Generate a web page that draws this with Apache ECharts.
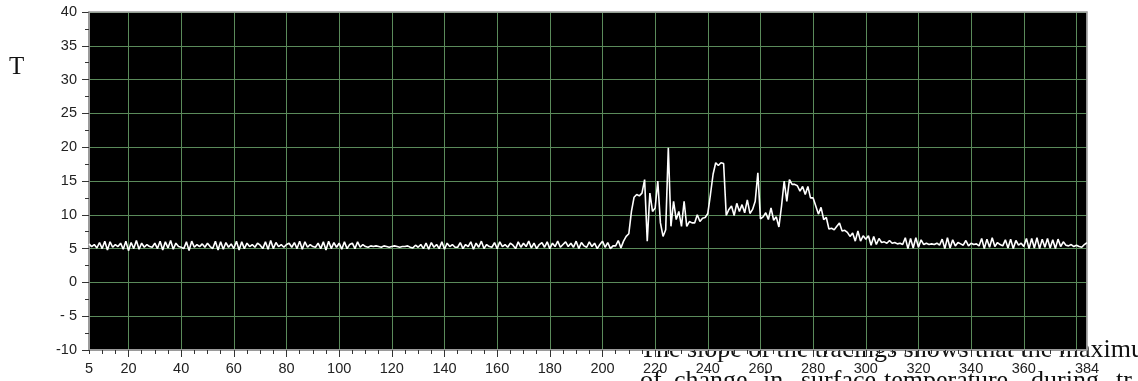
<!DOCTYPE html>
<html>
<head>
<meta charset="utf-8">
<script src="https://cdn.jsdelivr.net/npm/echarts@6/dist/echarts.min.js"></script>
<style>
  html, body { margin: 0; padding: 0; background: #fff; }
  #main { width: 1138px; height: 381px; }
</style>
</head>
<body>
<div id="main"></div>
<script>
// first sample is at x = 5, one sample per unit
var xStart = 5;

// quiet baseline, x 5..204
var baseLeft = [
  5.7,5.3,5.6,5.1,5.9,5.0,6.1,4.8,6.0,5.2,5.6,5.3,5.8,4.9,6.1,4.7,5.9,5.0,6.2,4.9,
  5.8,5.2,5.6,5.3,5.2,5.8,5.0,6.1,4.8,6.0,5.1,6.2,4.9,5.8,5.3,5.2,5.0,6.0,4.7,6.1,
  5.2,5.6,5.3,5.7,5.2,5.8,5.3,5.0,6.1,4.8,6.0,4.9,5.9,5.2,5.7,5.0,6.1,4.8,6.0,5.0,
  5.8,5.3,5.6,5.2,5.8,5.5,5.0,6.0,4.9,6.2,5.0,5.9,5.3,5.6,5.2,5.6,5.8,5.2,5.9,5.0,
  6.1,4.9,6.0,5.2,5.6,5.3,5.2,5.8,5.0,6.0,4.8,6.1,5.0,5.9,5.2,5.8,4.9,6.0,5.0,5.6,
  5.8,5.0,6.0,5.2,5.6,5.3,5.2,5.4,5.3,5.4,5.3,5.2,5.4,5.3,5.2,5.3,5.4,5.3,5.2,5.3,
  5.3,5.4,5.2,5.1,5.5,5.2,5.6,5.0,5.8,4.9,5.9,5.2,5.6,5.0,6.0,4.9,5.8,5.3,5.6,5.2,
  5.2,5.9,5.0,5.6,5.3,6.0,4.9,5.8,5.2,6.1,5.0,5.6,5.3,5.2,5.9,5.0,6.0,5.3,5.6,5.2,
  5.8,5.5,5.0,6.0,5.2,5.8,5.3,6.1,5.1,5.8,5.0,5.6,5.9,5.2,6.0,5.0,5.8,5.3,6.1,5.2,
  5.6,6.0,5.3,5.8,5.2,6.1,5.0,5.9,5.4,5.2,6.0,5.3,5.8,5.0,5.6,6.1,5.2,5.9,5.0,5.4
];

// heating burst, x 205..300
var burst = [
  5.4,6.2,5.1,6.1,6.8,7.2,
  10.5,12.6,13.0,12.8,13.2,15.2,6.1,13.2,10.5,11.0,
  15.0,8.8,6.8,7.8,19.9,8.3,12.0,9.3,10.5,8.3,
  12.0,8.3,9.0,8.8,8.8,10.0,9.0,9.5,9.6,10.2,
  13.0,16.0,17.7,17.3,17.7,17.6,9.9,10.8,11.3,9.9,
  11.7,10.5,11.5,10.3,12.2,10.2,10.8,12.0,16.2,9.4,
  9.7,10.3,9.3,11.0,9.2,9.7,8.2,11.3,15.0,12.0,
  15.2,14.5,14.5,14.3,13.5,14.2,13.0,14.2,12.5,12.5,
  11.3,10.1,11.1,9.3,9.6,7.9,8.0,7.8,8.3,8.8,
  7.6,7.7,7.4,6.8,7.3,6.1,7.6,6.1,6.9,6.4
];

// back to baseline, x 301..384
var baseRight = [
  6.9,5.5,6.8,5.6,6.5,5.9,6.0,5.8,6.2,5.8,
  5.9,5.7,5.8,5.6,6.6,5.0,6.5,5.1,6.6,5.2,
  6.3,5.6,5.8,5.6,5.7,5.6,5.8,5.5,6.4,5.0,
  6.6,5.1,6.3,5.4,5.9,5.7,5.5,6.2,5.4,5.8,
  5.6,5.7,5.4,6.5,5.0,6.4,5.2,6.6,5.3,5.9,
  5.6,5.4,6.3,5.1,6.4,5.0,6.2,5.5,5.8,5.3,
  6.5,5.0,6.5,5.1,6.6,5.0,6.4,5.2,6.5,5.1,
  6.3,5.0,6.4,5.3,6.0,5.5,5.4,5.6,5.3,5.5,
  5.3,5.2,5.6,5.9
];

var xLabelValues = [5,20,40,60,80,100,120,140,160,180,200,220,240,260,280,300,320,340,360,384];
var xGridValues = [20,40,60,80,100,120,140,160,180,200,220,240,260,280,300,320,340,360,380];

// words of the clipped page text below the chart (second line is justified)
var textLine1 = 'The slope of the tracings shows that the maximu';
var textLine2 = ['of', 'change', 'in', 'surface', 'temperature', 'during', 'tr'];
var textLine2X = [640, 674, 763, 801, 884, 1031, 1116];

var values = baseLeft.concat(burst, baseRight);
var points = values.map(function (v, i) { return [xStart + i, v]; });

var chart = echarts.init(document.getElementById('main'));

var tickFont = 'Liberation Sans, Arial, sans-serif';
var pageFont = '26px "Liberation Serif", "Times New Roman", serif';
var frameLine = { color: '#a8a8a8', width: 1.5 };

var graphics = [
  { type: 'text', left: 9, top: 55, z: -10,
    style: { text: 'T', font: '25px "Liberation Serif", "Times New Roman", serif', fill: '#111' } },
  { type: 'text', x: 640, y: 363, z: -10,
    style: { text: textLine1, textVerticalAlign: 'bottom', font: pageFont, fill: '#111' } }
];
textLine2.forEach(function (w, i) {
  graphics.push({ type: 'text', x: textLine2X[i], y: 394, z: -10,
    style: { text: w, textVerticalAlign: 'bottom', font: pageFont, fill: '#111' } });
});

// empty axes used only as the grey frame on the top and right
var frameX = {
  type: 'value', position: 'top', min: 5, max: 384, z: 1,
  axisLine: { onZero: false, lineStyle: frameLine },
  axisTick: { show: false }, axisLabel: { show: false }, splitLine: { show: false }
};
var frameY = {
  type: 'value', position: 'right', min: -10, max: 40, z: 1,
  axisLine: { show: true, onZero: false, lineStyle: frameLine },
  axisTick: { show: false }, axisLabel: { show: false }, splitLine: { show: false }
};

chart.setOption({
  animation: false,
  grid: {
    left: 89, right: 51, top: 12, bottom: 31,
    show: true,
    backgroundColor: '#000',
    borderColor: '#aaa',
    borderWidth: 1
  },
  xAxis: [{
    type: 'value',
    position: 'bottom',
    min: 5, max: 384,
    axisLine: { onZero: false, lineStyle: { color: '#9a9a9a', width: 2 } },
    axisTick: { customValues: xGridValues, length: 7, lineStyle: { color: '#333' } },
    axisLabel: {
      customValues: xLabelValues, margin: 11, fontSize: 14.5,
      color: '#222', fontFamily: tickFont
    },
    splitLine: { show: true, lineStyle: { color: '#5a8a5a', width: 1 } }
  }, {
    // minor ticks every 5
    type: 'value',
    position: 'bottom',
    min: 5, max: 384, interval: 5,
    axisLine: { show: false, onZero: false },
    axisTick: { length: 4, lineStyle: { color: '#333' } },
    axisLabel: { show: false },
    splitLine: { show: false }
  }, frameX],
  yAxis: [{
    type: 'value',
    position: 'left',
    min: -10, max: 40, interval: 5,
    axisLine: { show: true, onZero: false, lineStyle: { color: '#9a9a9a', width: 2 } },
    axisTick: { show: true, length: 7, lineStyle: { color: '#333' } },
    minorTick: { show: true, splitNumber: 2, length: 4, lineStyle: { color: '#333' } },
    axisLabel: {
      margin: 12, fontSize: 14.5,
      color: '#222', fontFamily: tickFont,
      formatter: function (v) {
        if (v < 0) { var a = Math.abs(v); return '-' + (a < 10 ? ' ' + a : a); }
        return String(v);
      }
    },
    splitLine: { show: true, lineStyle: { color: '#5a8a5a', width: 1 } }
  }, frameY],
  graphic: graphics,
  series: [{
    type: 'line',
    data: points,
    showSymbol: false,
    lineStyle: { color: '#fff', width: 1.6 },
    z: 5
  }]
});
</script>
</body>
</html>
